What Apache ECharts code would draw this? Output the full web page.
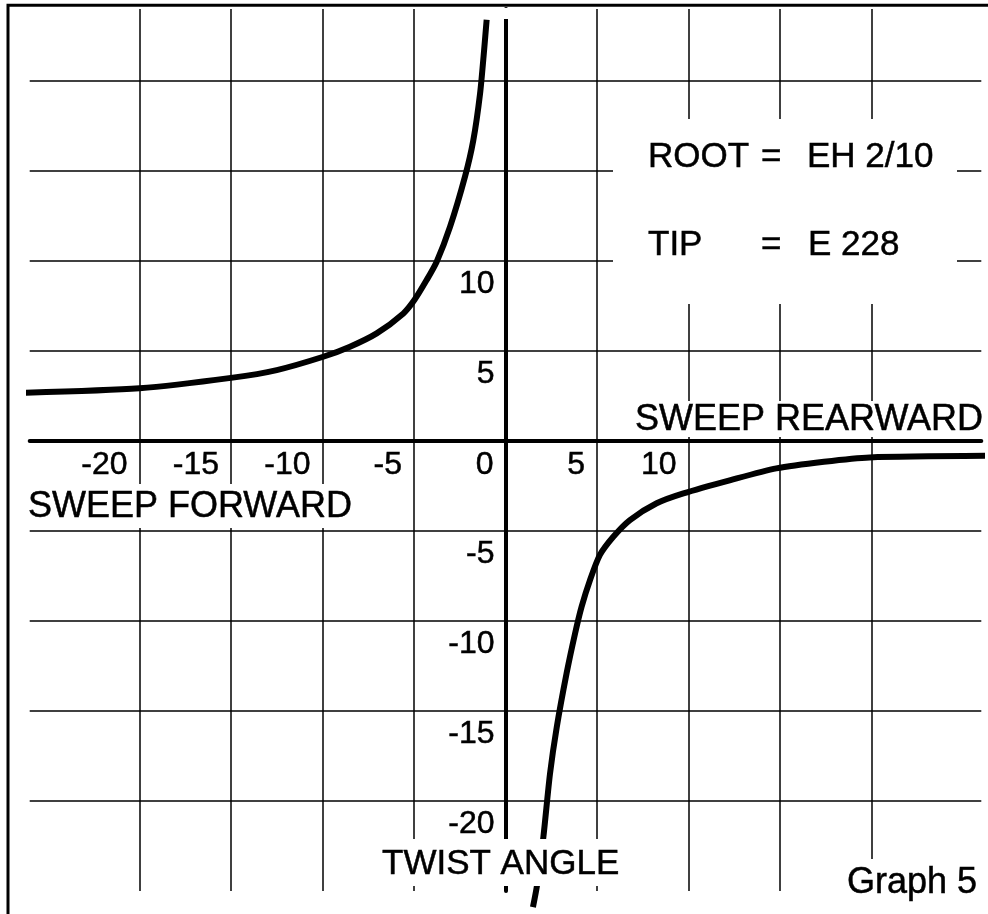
<!DOCTYPE html>
<html><head><meta charset="utf-8">
<script src="https://cdn.jsdelivr.net/npm/echarts@6/dist/echarts.min.js"></script>
<style>html,body{margin:0;padding:0;background:#fff}#c{width:988px;height:914px}</style>
</head><body><div id="c"></div>
<script>
// ---- data ----
const xTickLabels = [-20, -15, -10, -5, 0, 5, 10];
const yTickLabels = [10, 5, -5, -10, -15, -20];

// sweep forward branch (x = sweep, y = twist angle)
const forwardX = [-26.4, -20.0, -14.9, -12.5, -9.96, -8.5, -7.04, -5.58, -4.98, -4.31, -3.76, -3.03, -2.21, -1.76, -1.39, -1.17, -1.03];
const forwardY = [2.68, 2.93, 3.52, 3.94, 4.68, 5.24, 5.98, 7.09, 7.83, 8.94, 9.96, 11.9, 14.7, 16.7, 19.3, 21.7, 23.4];

// sweep rearward branch
const rearwardX = [26.3, 19.9, 17.4, 14.8, 12.3, 9.72, 8.26, 6.80, 5.89, 5.16, 4.62, 4.16, 3.80, 3.34, 2.80, 2.43, 2.07, 1.72, 1.5];
const rearwardY = [-0.82, -0.91, -1.15, -1.52, -2.17, -2.91, -3.46, -4.39, -5.32, -6.33, -7.72, -9.2, -10.7, -12.9, -15.9, -18.5, -22.0, -24.7, -25.9];

const txtRearward = 'SWEEP REARWARD';
const txtForward = 'SWEEP FORWARD';
const txtTwist = 'TWIST ANGLE';
const txtRoot = ['ROOT', '=', 'EH 2/10'];
const txtTip = ['TIP', '=', 'E 228'];
const txtGraph = 'Graph 5';

// ---- chart ----
const FONT = '"Liberation Sans", Arial, Helvetica, sans-serif';
const chart = echarts.init(document.getElementById('c'), null, {renderer: 'canvas'});
const zip = (xs, ys) => xs.map((x, i) => [x, ys[i]]);
const txt = (s, x, y, size) => ({
  type: 'text', x: x, y: y, z: 110, silent: true,
  style: {text: s, font: size + 'px ' + FONT, fill: '#000', stroke: '#000', lineWidth: 0.5,
          align: 'left', verticalAlign: 'middle'}
});
const mask = (x, y, w, h) => ({
  type: 'rect', z: 100, silent: true, shape: {x: x, y: y, width: w, height: h}, style: {fill: '#fff'}
});

// layout: 18.3 px per unit horizontally, 18 px per unit vertically, origin at (505.5, 441)
const gridTop = 9, gridBottom = 23;      // y range [-25, 24]
const axisShiftY = -450;                 // move bottom axis from y=-25 up to y=0
const axisShiftX = -475.8;               // move left axis from x=-26 to x=0

const labelStyle = {
  show: true, color: '#000', fontFamily: FONT, fontSize: 32,
  textBorderColor: '#000', textBorderWidth: 0.5,
  showMinLabel: false, showMaxLabel: false, hideOverlap: false
};

const option = {
  backgroundColor: '#fff',
  animation: false,
  grid: [
    {left: 29.7, right: 6.7, top: gridTop, bottom: gridBottom, containLabel: false, outerBoundsMode: 'none'},
    {left: 48, right: 25, top: gridTop, bottom: gridBottom, containLabel: false, outerBoundsMode: 'none'}
  ],
  xAxis: [
    {
      gridIndex: 0, type: 'value', min: -26, max: 26, position: 'bottom', offset: axisShiftY,
      axisLine: {show: true, onZero: false, lineStyle: {color: '#000', width: 4}},
      axisTick: {show: false}, axisLabel: {show: false}, splitLine: {show: false}
    },
    {
      gridIndex: 1, type: 'value', min: -25, max: 25, interval: 5, position: 'bottom', offset: axisShiftY,
      axisLine: {show: false, onZero: false},
      axisTick: {show: false},
      axisLabel: Object.assign({}, labelStyle, {
        align: 'right', margin: 8, padding: [0, 12, 0, 0],
        formatter: v => xTickLabels.includes(v) ? String(v) : ''
      }),
      splitLine: {show: true, showMinLine: false, showMaxLine: false, lineStyle: {color: '#000', width: 1.5}}
    }
  ],
  yAxis: [
    {
      gridIndex: 0, type: 'value', min: -25, max: 24, interval: 5, position: 'left', offset: axisShiftX,
      axisLine: {show: true, onZero: false, lineStyle: {color: '#000', width: 4}},
      axisTick: {show: false},
      axisLabel: Object.assign({}, labelStyle, {
        margin: 11, verticalAlign: 'top', padding: [7, 0, 0, 0],
        formatter: v => yTickLabels.includes(v) ? String(v) : ''
      }),
      splitLine: {show: true, showMinLine: false, showMaxLine: false, lineStyle: {color: '#000', width: 1.5}}
    },
    {
      gridIndex: 1, type: 'value', min: -25, max: 24, interval: 5, show: false,
      splitLine: {show: false}
    }
  ],
  series: [
    {
      type: 'line', xAxisIndex: 0, yAxisIndex: 0, data: zip(forwardX, forwardY),
      smooth: 0.25, clip: false, showSymbol: false, symbol: 'none', z: 5,
      lineStyle: {color: '#000', width: 6, cap: 'butt'}
    },
    {
      type: 'line', xAxisIndex: 0, yAxisIndex: 0, data: zip(rearwardX, rearwardY),
      smooth: 0.25, clip: false, showSymbol: false, symbol: 'none', z: 5,
      lineStyle: {color: '#000', width: 6, cap: 'butt'}
    }
  ],
  graphic: {
    elements: [
      mask(613, 119, 344, 185),
      mask(624, 401, 364, 36),
      mask(12, 484, 345, 44),
      mask(370, 839, 258, 47),
      mask(838, 859, 150, 55),
      mask(499, 8, 13, 11),
      {type: 'polyline', z: 120, silent: true, shape: {points: [[8, 914], [8, 5.3], [988, 5.3]]},
       style: {stroke: '#000', lineWidth: 3, fill: null}},
      txt(txtRearward, 635, 420, 36),
      txt(txtForward, 28, 507, 36),
      txt(txtRoot[0], 648, 157, 35),
      txt(txtRoot[1], 761, 157, 35),
      txt(txtRoot[2], 807, 157, 35),
      txt(txtTip[0], 648, 245, 35),
      txt(txtTip[1], 761, 245, 35),
      txt(txtTip[2], 808, 245, 35),
      txt(txtTwist, 382, 864, 35),
      txt(txtGraph, 847, 883, 36)
    ]
  }
};
chart.setOption(option);
</script></body></html>
